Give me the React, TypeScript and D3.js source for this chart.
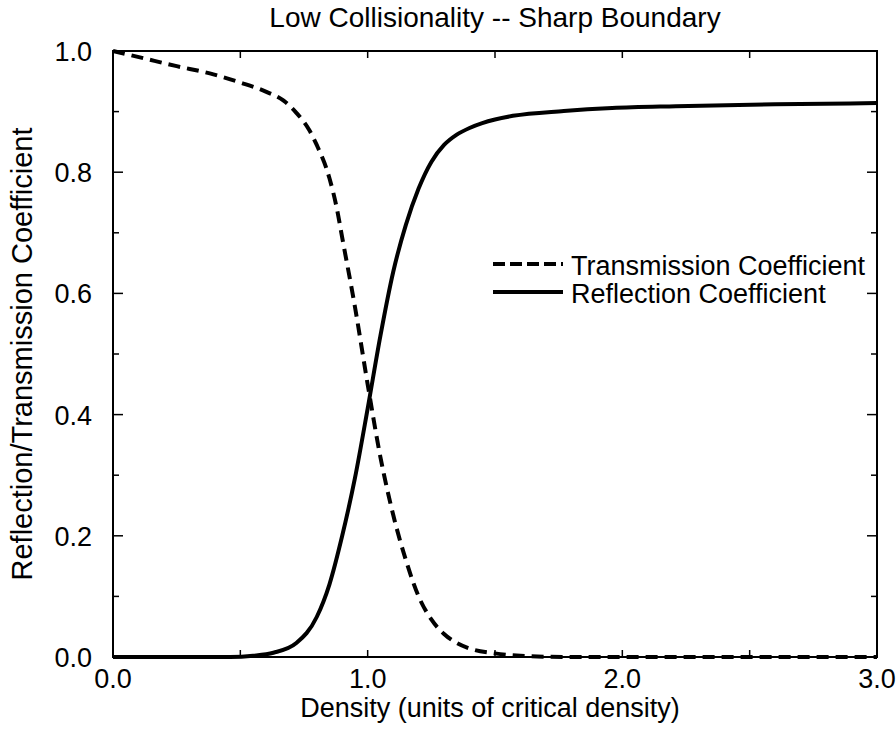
import React from "react";
import * as d3 from "d3";

const title = "Low Collisionality -- Sharp Boundary";
const xLabel = "Density (units of critical density)";
const yLabel = "Reflection/Transmission Coefficient";

const xMajorTicks = [0, 1, 2, 3];
const xMinorTicks = [0.5, 1.5, 2.5];
const yMajorTicks = [0, 0.2, 0.4, 0.6, 0.8, 1.0];
const yMinorTicks = [0.1, 0.3, 0.5, 0.7, 0.9];

const transX = [0, 0.12, 0.25, 0.38, 0.5, 0.6, 0.67, 0.72, 0.77, 0.8, 0.85, 0.88, 0.9, 0.95, 1.0, 1.05, 1.1, 1.15, 1.2, 1.25, 1.3, 1.35, 1.4, 1.5, 1.6, 1.8, 2.2, 2.6, 3.0];
const transY = [1.0, 0.988, 0.975, 0.963, 0.948, 0.933, 0.918, 0.898, 0.87, 0.845, 0.79, 0.738, 0.692, 0.578, 0.45, 0.33, 0.235, 0.16, 0.1, 0.062, 0.038, 0.023, 0.014, 0.006, 0.002, 0, 0, 0, 0];

const reflX = [0, 0.3, 0.46, 0.55, 0.63, 0.72, 0.8, 0.85, 0.9, 0.95, 1.0, 1.05, 1.1, 1.15, 1.2, 1.25, 1.3, 1.35, 1.4, 1.45, 1.5, 1.57, 1.77, 1.96, 2.21, 2.6, 3.0];
const reflY = [0, 0, 0, 0.002, 0.007, 0.023, 0.066, 0.12, 0.2, 0.295, 0.41, 0.53, 0.635, 0.713, 0.773, 0.817, 0.845, 0.862, 0.873, 0.881, 0.887, 0.893, 0.901, 0.906, 0.909, 0.912, 0.914];

const legendNames = ["Transmission Coefficient", "Reflection Coefficient"];

const FONT = "'Liberation Sans', Arial, Helvetica, sans-serif";

export default function App() {
  const W = 896, H = 736;
  const left = 113, right = 877, top = 51, bottom = 657;
  const x = d3.scaleLinear().domain([0, 3]).range([left, right]);
  const y = d3.scaleLinear().domain([0, 1]).range([bottom, top]);
  const fmt = d3.format(".1f");

  const line = d3
    .line<[number, number]>()
    .x((d) => x(d[0]))
    .y((d) => y(d[1]))
    .curve(d3.curveMonotoneX);

  const transPts = transX.map((v, i) => [v, transY[i]] as [number, number]);
  const reflPts = reflX.map((v, i) => [v, reflY[i]] as [number, number]);

  const dash = "12,7";

  return (
    <svg
      width={W}
      height={H}
      viewBox={`0 0 ${W} ${H}`}
      style={{ position: "absolute", left: 0, top: 0, background: "#fff" }}
      fontFamily={FONT}
    >
      <rect x={0} y={0} width={W} height={H} fill="#fff" />
      <text x={(left + right) / 2} y={27} textAnchor="middle" fontSize={28} fill="#000">
        {title}
      </text>

      {/* curves */}
      <path d={line(reflPts) || ""} fill="none" stroke="#000" strokeWidth={4} />
      <path d={line(transPts) || ""} fill="none" stroke="#000" strokeWidth={4} strokeDasharray={dash} />

      {/* frame */}
      <rect x={left} y={top} width={right - left} height={bottom - top} fill="none" stroke="#000" strokeWidth={2} />

      {/* x ticks */}
      {xMajorTicks.concat(xMinorTicks).map((t, i) => (
        <g key={"xt" + i}>
          <line x1={x(t)} x2={x(t)} y1={bottom} y2={bottom - 7} stroke="#000" strokeWidth={1.5} />
          <line x1={x(t)} x2={x(t)} y1={top} y2={top + 7} stroke="#000" strokeWidth={1.5} />
        </g>
      ))}
      {xMajorTicks.map((t, i) => (
        <text key={"xl" + i} x={x(t)} y={bottom + 31} textAnchor="middle" fontSize={27} fill="#000">
          {fmt(t)}
        </text>
      ))}

      {/* y ticks */}
      {yMajorTicks.map((t, i) => (
        <g key={"ytm" + i}>
          <line x1={left} x2={left + 10} y1={y(t)} y2={y(t)} stroke="#000" strokeWidth={1.5} />
          <line x1={right} x2={right - 10} y1={y(t)} y2={y(t)} stroke="#000" strokeWidth={1.5} />
        </g>
      ))}
      {yMinorTicks.map((t, i) => (
        <g key={"ytn" + i}>
          <line x1={left} x2={left + 6} y1={y(t)} y2={y(t)} stroke="#000" strokeWidth={1.5} />
          <line x1={right} x2={right - 6} y1={y(t)} y2={y(t)} stroke="#000" strokeWidth={1.5} />
        </g>
      ))}
      {yMajorTicks.map((t, i) => (
        <text key={"yl" + i} x={92} y={y(t) + 10} textAnchor="end" fontSize={27} fill="#000">
          {fmt(t)}
        </text>
      ))}

      {/* axis labels */}
      <text x={490} y={717} textAnchor="middle" fontSize={27} fill="#000">
        {xLabel}
      </text>
      <text
        transform={`translate(32, ${(top + bottom) / 2}) rotate(-90)`}
        textAnchor="middle"
        fontSize={29}
        fill="#000"
      >
        {yLabel}
      </text>

      {/* legend */}
      <line x1={493} x2={563} y1={264} y2={264} stroke="#000" strokeWidth={4} strokeDasharray="12,5" />
      <text x={571} y={275} fontSize={27} fill="#000">
        {legendNames[0]}
      </text>
      <line x1={493} x2={563} y1={292} y2={292} stroke="#000" strokeWidth={4} />
      <text x={571} y={303} fontSize={27} fill="#000">
        {legendNames[1]}
      </text>
    </svg>
  );
}
